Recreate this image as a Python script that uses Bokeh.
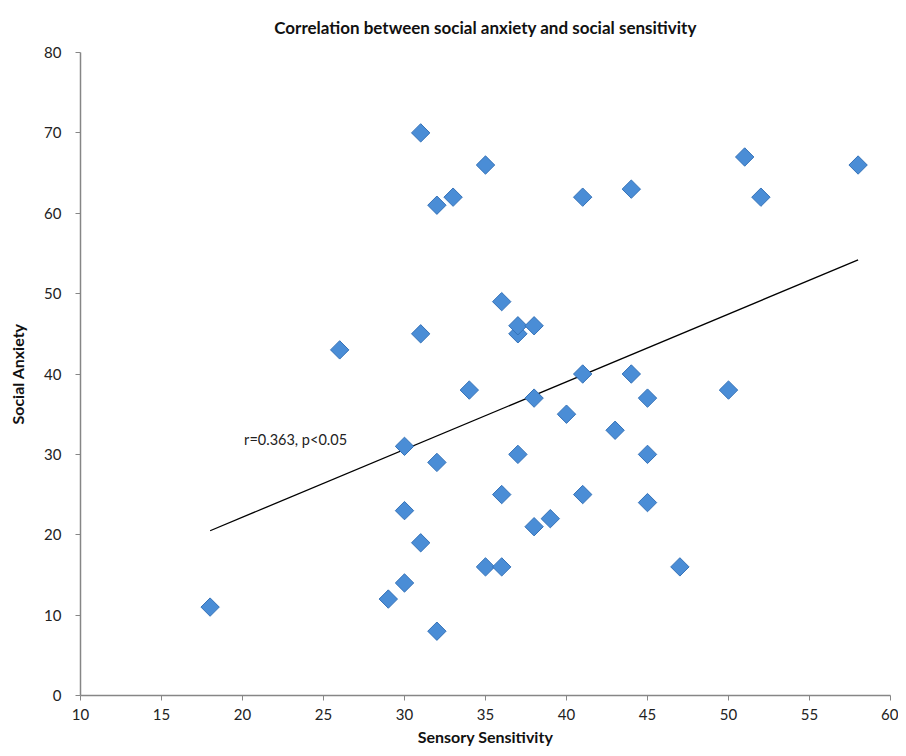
import numpy as np
from bokeh.plotting import figure
from bokeh.models import Range1d, FixedTicker, Label
from bokeh.embed import file_html
from bokeh.resources import INLINE

# Data
sensory = [18, 26, 29, 30, 30, 30, 31, 31, 31, 32, 32, 32, 33, 34, 35, 35, 36, 36, 36,
           37, 37, 37, 38, 38, 38, 39, 40, 41, 41, 41, 43, 44, 44, 45, 45, 45, 47, 50,
           51, 52, 58]
anxiety = [11, 43, 12, 14, 23, 31, 19, 45, 70, 8, 29, 61, 62, 38, 16, 66, 16, 25, 49,
           30, 45, 46, 21, 37, 46, 22, 35, 25, 40, 62, 33, 40, 63, 24, 30, 37, 16, 38,
           67, 62, 66]
trend_x = [18, 58]
trend_y = [20.5, 54.2]
x_ticks = [10, 15, 20, 25, 30, 35, 40, 45, 50, 55, 60]
y_ticks = [0, 10, 20, 30, 40, 50, 60, 70, 80]
annotation = "r=0.363, p<0.05"
title_text = "Correlation between social anxiety and social sensitivity"

FONT = "Lato"

p = figure(width=898, height=748, output_backend="svg", toolbar_location=None,
           x_range=Range1d(10, 60), y_range=Range1d(0, 80),
           min_border_left=80, min_border_right=8, min_border_top=50, min_border_bottom=50)
p.outline_line_color = None
p.xgrid.grid_line_color = None
p.ygrid.grid_line_color = None

p.title.text = title_text
p.title.align = "center"
p.title.text_font = FONT
p.title.text_font_size = "17px"
p.title.text_font_style = "bold"
p.title.text_color = "#111111"
p.title.standoff = 29

for ax in (p.xaxis[0], p.yaxis[0]):
    ax.axis_line_color = "#868686"
    ax.axis_line_width = 1.5
    ax.major_tick_line_color = "#868686"
    ax.major_tick_out = 5
    ax.major_tick_in = 0
    ax.minor_tick_line_color = None
    ax.major_label_text_font = FONT
    ax.major_label_text_font_size = "15px"
    ax.major_label_text_color = "#222222"
    ax.axis_label_text_font = FONT
    ax.axis_label_text_font_size = "16px"
    ax.axis_label_text_font_style = "bold"
    ax.axis_label_text_color = "#111111"

p.xaxis.ticker = FixedTicker(ticks=x_ticks)
p.yaxis.ticker = FixedTicker(ticks=y_ticks)
p.xaxis.axis_label = "Sensory Sensitivity"
p.yaxis.axis_label = "Social Anxiety"
p.xaxis.major_label_standoff = 8
p.yaxis.major_label_standoff = 14
p.xaxis.axis_label_standoff = 4
p.yaxis.axis_label_standoff = 14

p.line(trend_x, trend_y, line_color="black", line_width=1.3)

p.scatter(sensory, anxiety, marker="square", angle=np.pi / 4, size=13,
          fill_color="#4A8DD6", line_color="#3572B8", line_width=1)

p.add_layout(Label(x=20.1, y=31.9, text=annotation, text_font=FONT,
                   text_font_size="14.5px", text_baseline="middle", text_color="#222222"))

open("out.html", "w").write(file_html(p, INLINE))
